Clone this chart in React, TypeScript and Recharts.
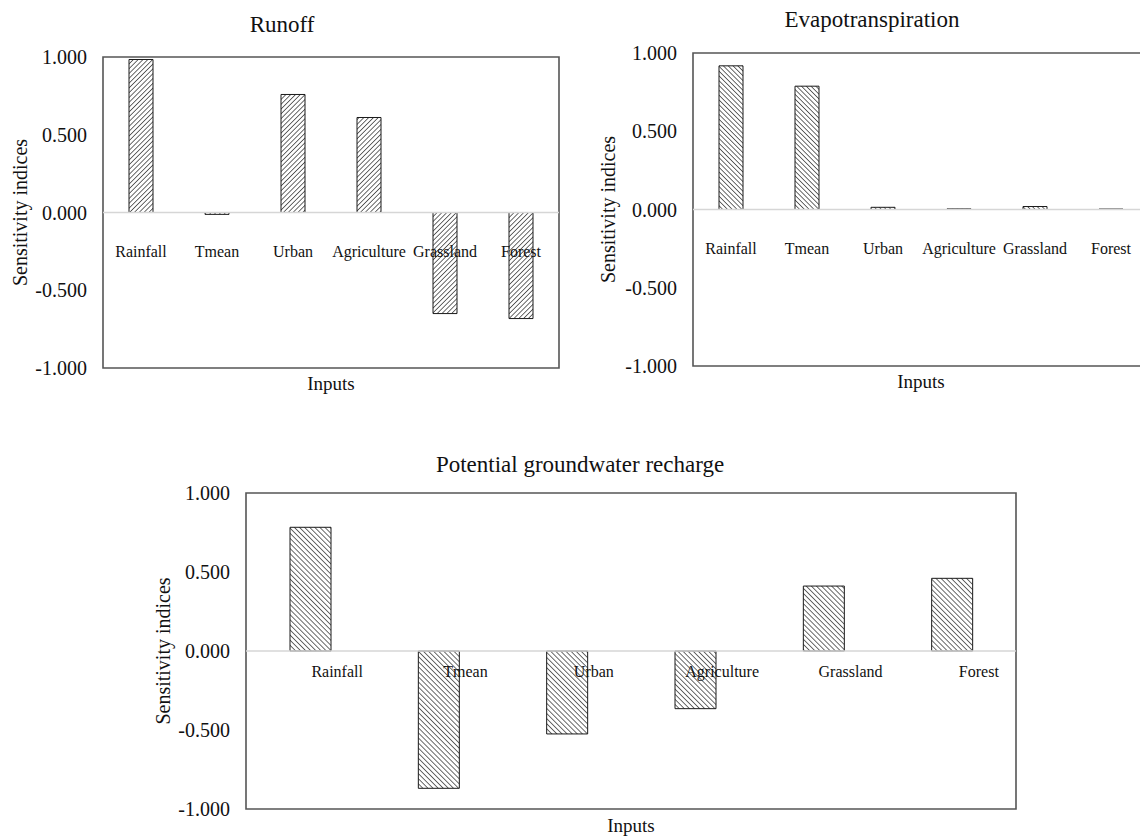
import { Bar, BarChart, ReferenceArea, ReferenceLine, XAxis, YAxis } from "recharts";

const categories = ["Rainfall", "Tmean", "Urban", "Agriculture", "Grassland", "Forest"];
const runoff = [0.984, -0.012, 0.759, 0.611, -0.65, -0.682];
const evapotranspiration = [0.918, 0.788, 0.014, 0.004, 0.019, 0.003];
const recharge = [0.783, -0.869, -0.525, -0.365, 0.411, 0.46];
const yTicks = [-1, -0.5, 0, 0.5, 1];

const FONT = '"Liberation Serif", "Times New Roman", serif';
const INK = "#111";

type PanelProps = {
  id: string;
  title: string;
  values: number[];
  left: number;
  top: number;
  width: number;
  height: number;
  box: { x1: number; x2: number; y1: number; y2: number };
  barSize: number;
  angle: number;
  gap: number;
  labelGap: number;
  labelDx: number;
  titleX: number;
  titleY: number;
  yLabelX: number;
  inputsY: number;
};

function Panel(p: PanelProps) {
  const axisW = 90;
  const margin = {
    top: p.box.y1,
    left: p.box.x1 - axisW,
    right: p.width - p.box.x2,
    bottom: p.height - p.box.y2 - 1,
  };
  const zeroY = (p.box.y1 + p.box.y2) / 2;
  const data = categories.map((name, i) => ({ name, value: p.values[i] }));

  // category names sit just under the zero line, like Excel's "next to axis" labels
  const tick = (t: any) => (
    <text
      x={t.x + p.labelDx}
      y={zeroY + p.labelGap}
      textAnchor="middle"
      dominantBaseline="central"
      fontSize={16}
      fontFamily={FONT}
      fill={INK}
    >
      {t.payload.value}
    </text>
  );

  return (
    <div style={{ position: "absolute", left: p.left, top: p.top, width: p.width, height: p.height }}>
      <BarChart width={p.width} height={p.height} data={data} margin={margin}>
        <defs>
          <pattern
            id={p.id}
            width={p.gap}
            height={p.gap}
            patternUnits="userSpaceOnUse"
            patternTransform={`rotate(${p.angle})`}
          >
            <rect width={p.gap} height={p.gap} fill="#fff" />
            <line x1={0} y1={0} x2={0} y2={p.gap} stroke="#1a1a1a" strokeWidth={1.3} />
          </pattern>
        </defs>
        <XAxis dataKey="name" height={1} axisLine={false} tickLine={false} interval={0} tick={tick} />
        <YAxis
          width={axisW}
          domain={[-1, 1]}
          ticks={yTicks}
          tickFormatter={(v: number) => v.toFixed(3)}
          axisLine={false}
          tickLine={false}
          tickSize={0}
          tickMargin={16}
          tick={{ fontSize: 20, fill: INK, fontFamily: FONT }}
        />
        <ReferenceLine y={0} stroke="#d6d6d6" strokeWidth={1.5} />
        <Bar
          dataKey="value"
          fill={`url(#${p.id})`}
          stroke="#1a1a1a"
          strokeWidth={1}
          barSize={p.barSize}
          isAnimationActive={false}
        />
        <ReferenceArea y1={-1} y2={1} fill="none" stroke="#555" strokeWidth={1.6} />
      </BarChart>
      <svg
        width={p.width}
        height={p.height}
        style={{ position: "absolute", left: 0, top: 0, pointerEvents: "none" }}
      >
        <text x={p.titleX} y={p.titleY} textAnchor="middle" dominantBaseline="central" fontSize={23} fontFamily={FONT} fill={INK}>
          {p.title}
        </text>
        <text
          x={p.yLabelX}
          y={zeroY}
          textAnchor="middle"
          dominantBaseline="central"
          fontSize={20}
          fontFamily={FONT}
          fill={INK}
          transform={`rotate(-90 ${p.yLabelX} ${zeroY})`}
        >
          Sensitivity indices
        </text>
        <text
          x={(p.box.x1 + p.box.x2) / 2}
          y={p.inputsY}
          textAnchor="middle"
          dominantBaseline="central"
          fontSize={19}
          fontFamily={FONT}
          fill={INK}
        >
          Inputs
        </text>
      </svg>
    </div>
  );
}

export default function App() {
  return (
    <div
      style={{
        position: "absolute",
        left: 0,
        top: 0,
        width: 1140,
        height: 837,
        overflow: "hidden",
        background: "#fff",
      }}
    >
      <Panel
        id="hatchRunoff"
        title="Runoff"
        values={runoff}
        left={0}
        top={0}
        width={580}
        height={400}
        box={{ x1: 103, x2: 559, y1: 57, y2: 368 }}
        barSize={24}
        angle={45}
        gap={3.4}
        labelGap={39}
        labelDx={0}
        titleX={282}
        titleY={24}
        yLabelX={20}
        inputsY={383}
      />
      <Panel
        id="hatchEvap"
        title="Evapotranspiration"
        values={evapotranspiration}
        left={580}
        top={0}
        width={580}
        height={400}
        box={{ x1: 113, x2: 569, y1: 53, y2: 366 }}
        barSize={24}
        angle={-45}
        gap={3.4}
        labelGap={39}
        labelDx={0}
        titleX={292}
        titleY={19}
        yLabelX={28}
        inputsY={381}
      />
      <Panel
        id="hatchRecharge"
        title="Potential groundwater recharge"
        values={recharge}
        left={140}
        top={450}
        width={900}
        height={387}
        box={{ x1: 106, x2: 876, y1: 43, y2: 359 }}
        barSize={41}
        angle={-45}
        gap={3.6}
        labelGap={20}
        labelDx={27}
        titleX={440}
        titleY={14}
        yLabelX={23}
        inputsY={375}
      />
    </div>
  );
}
